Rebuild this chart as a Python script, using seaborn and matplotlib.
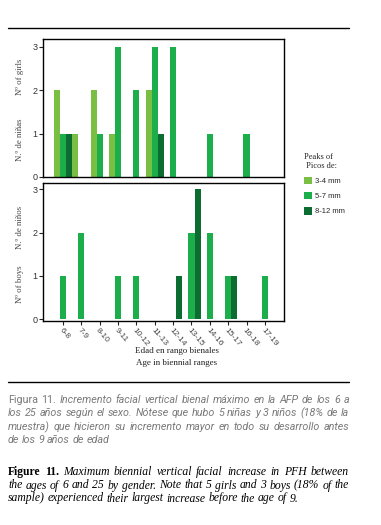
import numpy as np
import pandas as pd
import seaborn as sns
import matplotlib
import matplotlib.pyplot as plt
from matplotlib.lines import Line2D
from matplotlib import font_manager

# age ranges (x categories)
rangos = ['6-8', '7-9', '8-10', '9-11', '10-12', '11-13',
          '12-14', '13-15', '14-16', '15-17', '16-18', '17-19']
picos = ['3-4 mm', '5-7 mm', '8-12 mm']

# girls: counts per peak size
ninas_34 = [2, 1, 2, 1, 0, 2, 0, 0, 0, 0, 0, 0]
ninas_57 = [1, 0, 1, 3, 2, 3, 3, 0, 1, 0, 1, 0]
ninas_812 = [1, 0, 0, 0, 0, 1, 0, 0, 0, 0, 0, 0]

# boys: counts per peak size
ninos_34 = [0, 0, 0, 0, 0, 0, 0, 0, 0, 0, 0, 0]
ninos_57 = [1, 2, 0, 1, 1, 0, 0, 2, 2, 1, 0, 1]
ninos_812 = [0, 0, 0, 0, 0, 0, 1, 3, 0, 1, 0, 0]

colores = ['#79bf44', '#1cae4b', '#0b6d31']

W, H = 381, 525

sns.set_style("ticks")
names = {f.name for f in font_manager.fontManager.ttflist}
narrow = 'Liberation Sans Narrow' if 'Liberation Sans Narrow' in names else 'Roboto'
plt.rcParams['font.family'] = ['Liberation Sans', 'DejaVu Sans']


def long_df(a, b, c):
    rows = []
    for serie, vals in zip(picos, [a, b, c]):
        for r, v in zip(rangos, vals):
            rows.append({'rango': r, 'pico': serie, 'n': v})
    return pd.DataFrame(rows)


fig = plt.figure(figsize=(W / 100, H / 100), dpi=100)
fig.patch.set_facecolor('white')

ax1 = fig.add_axes([43 / W, 1 - 177 / H, 241 / W, 138 / H])
ax2 = fig.add_axes([43 / W, 1 - 321 / H, 241 / W, 138 / H])

for ax, df in [(ax1, long_df(ninas_34, ninas_57, ninas_812)),
               (ax2, long_df(ninos_34, ninos_57, ninos_812))]:
    sns.barplot(data=df, x='rango', y='n', hue='pico', order=rangos,
                hue_order=picos, palette=colores, width=1.0, saturation=1,
                linewidth=0, ax=ax)
    ax.set_xlim(-1.09, 12.04)
    ax.set_yticks([0, 1, 2, 3])
    ax.set_xlabel('')
    ax.set_ylabel('')
    for s in ax.spines.values():
        s.set_visible(True)
        s.set_linewidth(1.0)
        s.set_color('black')
    ax.tick_params(axis='y', length=3, width=0.8, pad=1, labelsize=6.5,
                   labelcolor='#333333')
    ax.grid(False)

handles, labels = ax1.get_legend_handles_labels()
ax1.get_legend().remove()
ax2.get_legend().remove()

ax1.set_ylim(0, 3.18)
ax2.set_ylim(-0.046, 3.146)
ax1.tick_params(axis='x', bottom=False, labelbottom=False)
ax2.tick_params(axis='x', length=3, width=0.8, labelsize=6,
                labelcolor='#444444', pad=1)
for lab in ax2.get_xticklabels():
    lab.set_rotation(-50)
    lab.set_ha('left')
    lab.set_va('top')
    lab.set_rotation_mode('anchor')

# y labels (two languages)
serif = ['Liberation Serif', 'DejaVu Serif']
for txt, y in [('Nº of girls', 77), ('N.º de niñas', 140),
               ('N.º de niños', 227), ('Nº of boys', 284)]:
    fig.text(20 / W, 1 - y / H, txt, rotation=90, ha='center', va='center',
             fontsize=6.3, family=serif, color='#444444')

# x labels
fig.text(177 / W, 1 - 351 / H, 'Edad en rango bienales', ha='center',
         va='center', fontsize=6.5, family=serif, color='#222222')
fig.text(177 / W, 1 - 363 / H, 'Age in biennial ranges', ha='center',
         va='center', fontsize=6.5, family=serif, color='#222222')

# legend
leg = fig.legend(handles, labels, loc='upper left',
                 bbox_to_anchor=(297 / W, 1 - 146 / H), frameon=False,
                 fontsize=5.5, handlelength=1.1, handleheight=1.1,
                 handletextpad=0.4, labelspacing=0.9,
                 title='Peaks of\n Picos de:',
                 title_fontproperties={'family': 'Liberation Serif', 'size': 6})
leg._legend_box.align = 'left'

# horizontal rules
fig.add_artist(Line2D([8 / W, 349 / W], [1 - 28 / H, 1 - 28 / H],
                      color='black', lw=1.0, transform=fig.transFigure))
fig.add_artist(Line2D([8 / W, 349 / W], [1 - 382 / H, 1 - 382 / H],
                      color='black', lw=1.0, transform=fig.transFigure))

renderer = fig.canvas.get_renderer()
X0, X1 = 8, 349


def width_of(s, p, size):
    t = fig.text(0, 0, s, fontsize=size, **p)
    w = t.get_window_extent(renderer).width
    t.remove()
    return w


def natural(words, size):
    sp = width_of('x x', words[-1][1], size) - width_of('xx', words[-1][1], size)
    return sum(width_of(w, p, size) for w, p in words) + sp * (len(words) - 1)


def paragraph(lines, ys, base):
    # one size for the whole paragraph, fitted to the widest justified line
    widest = max(natural(ws, base) for ws in lines[:-1])
    size = base * (X1 - X0) / widest * 0.985
    for i, (ws, y) in enumerate(zip(lines, ys)):
        texts = [fig.text(0, 1 - y / H, w, ha='left', va='center',
                          fontsize=size, **p) for w, p in ws]
        widths = [t.get_window_extent(renderer).width for t in texts]
        if i < len(lines) - 1:
            gap = (X1 - X0 - sum(widths)) / (len(ws) - 1)
        else:
            gap = width_of('x x', ws[-1][1], size) - width_of('xx', ws[-1][1], size)
        x = X0
        for t, w in zip(texts, widths):
            t.set_x(x / W)
            x += w + gap


es_up = dict(family=[narrow, 'DejaVu Sans'], color='#7a7a7a')
es_it = dict(es_up, style='italic')
en_b = dict(family=serif, color='black', weight='bold')
en_it = dict(family=serif, color='black', style='italic')

es_lines = [
    'Incremento facial vertical bienal máximo en la AFP de los 6 a',
    'los 25 años según el sexo. Nótese que hubo 5 niñas y 3 niños (18% de la',
    'muestra) que hicieron su incremento mayor en todo su desarrollo antes',
    'de los 9 años de edad',
]
en_lines = [
    'Maximum biennial vertical facial increase in PFH between',
    'the ages of 6 and 25 by gender. Note that 5 girls and 3 boys (18% of the',
    'sample) experienced their largest increase before the age of 9.',
]

es_words = []
for i, txt in enumerate(es_lines):
    ws = [(w, es_it) for w in txt.split()]
    if i == 0:
        ws = [('Figura', es_up), ('11.', es_up)] + ws
    es_words.append(ws)
paragraph(es_words, [400, 413.5, 427, 440], 8)

en_words = []
for i, txt in enumerate(en_lines):
    ws = [(w, en_it) for w in txt.split()]
    if i == 0:
        ws = [('Figure', en_b), ('11.', en_b)] + ws
    en_words.append(ws)
paragraph(en_words, [472, 485.5, 498.5], 8)

plt.savefig('out.png', dpi=100)
